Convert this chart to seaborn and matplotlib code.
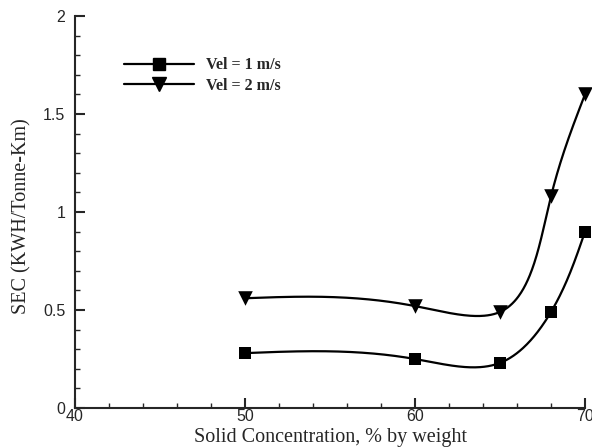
import numpy as np
import pandas as pd
import seaborn as sns
import matplotlib
matplotlib.use("Agg")
import matplotlib.pyplot as plt
from matplotlib.lines import Line2D
from matplotlib.ticker import MultipleLocator

# data
concentration = [50, 60, 65, 68, 70]
sec_vel1 = [0.28, 0.25, 0.23, 0.49, 0.90]
sec_vel2 = [0.56, 0.52, 0.49, 1.08, 1.60]
series_labels = ["Vel = 1 m/s", "Vel = 2 m/s"]


def natural_coeffs(t, v):
    k = len(t)
    h = np.diff(t)
    A = np.zeros((k, k))
    b = np.zeros(k)
    A[0, 0] = A[-1, -1] = 1
    for i in range(1, k - 1):
        A[i, i - 1] = h[i - 1]
        A[i, i] = 2 * (h[i - 1] + h[i])
        A[i, i + 1] = h[i]
        b[i] = 6 * ((v[i + 1] - v[i]) / h[i] - (v[i] - v[i - 1]) / h[i - 1])
    return np.linalg.solve(A, b)


def eval_spline(t, v, M, ts):
    h = np.diff(t)
    j = np.clip(np.searchsorted(t, ts) - 1, 0, len(t) - 2)
    t0 = t[j + 1] - ts
    t1 = ts - t[j]
    hj = h[j]
    return (M[j] * t0 ** 3 / (6 * hj) + M[j + 1] * t1 ** 3 / (6 * hj)
            + (v[j] / hj - M[j] * hj / 6) * t0
            + (v[j + 1] / hj - M[j + 1] * hj / 6) * t1)


def smooth_curve(x, y, sx=17.0, sy=196.0, n=400):
    # parametric spline through the points, chord length taken on screen
    px = np.asarray(x, float) * sx
    py = np.asarray(y, float) * sy
    t = np.concatenate([[0], np.cumsum(np.hypot(np.diff(px), np.diff(py)))])
    ts = np.linspace(0, t[-1], n)
    cx = eval_spline(t, px, natural_coeffs(t, px), ts)
    cy = eval_spline(t, py, natural_coeffs(t, py), ts)
    return cx / sx, cy / sy


sns.set_style("ticks")
plt.rcParams["font.family"] = ["Liberation Serif", "DejaVu Serif"]

fig = plt.figure(figsize=(5.92, 4.48), dpi=100)
ax = fig.add_axes([75 / 592, 40 / 448, 510 / 592, 392 / 448])

for vals, marker, size in [(sec_vel1, "s", 80), (sec_vel2, "v", 110)]:
    xs, ys = smooth_curve(concentration, vals)
    curve = pd.DataFrame({"x": xs, "y": ys})
    sns.lineplot(data=curve, x="x", y="y", ax=ax, color="black",
                 linewidth=1.6, sort=False, estimator=None)
    pts = pd.DataFrame({"x": concentration, "y": vals})
    sns.scatterplot(data=pts, x="x", y="y", ax=ax, color="black",
                    marker=marker, s=size, edgecolor="black",
                    linewidth=0, zorder=3, clip_on=False)

ax.set_xlim(40, 70)
ax.set_ylim(0, 2)
ax.xaxis.set_major_locator(MultipleLocator(10))
ax.xaxis.set_minor_locator(MultipleLocator(2))
ax.yaxis.set_minor_locator(MultipleLocator(0.1))
ax.set_yticks([0, 0.5, 1, 1.5, 2])
ax.set_yticklabels(["0", "0.5", "1", "1.5", "2"])

ax.tick_params(which="major", direction="in", length=7, width=1.5,
               labelsize=11.5, labelfontfamily="Liberation Sans")
ax.tick_params(which="minor", direction="in", length=3.5, width=1)
ax.tick_params(axis="x", which="major", pad=1)
ax.tick_params(axis="y", which="major", pad=7)

sns.despine(ax=ax)
for side in ["left", "bottom"]:
    ax.spines[side].set_linewidth(1.5)

ax.set_xlabel("Solid Concentration, % by weight", fontsize=14.5)
ax.set_ylabel("SEC (KWH/Tonne-Km)", fontsize=14.5)
ax.xaxis.set_label_coords(0.5, -0.05)
ax.yaxis.set_label_coords(-0.085, 0.49)

handles = [
    Line2D([], [], color="black", lw=1.6, marker="s", markersize=9),
    Line2D([], [], color="black", lw=1.6, marker="v", markersize=10),
]
ax.legend(handles, series_labels, loc="upper left",
          bbox_to_anchor=((124 - 75) / 510, 0.895), borderaxespad=0,
          borderpad=0, frameon=False, handlelength=4.4, handletextpad=0.75,
          labelspacing=0.28, prop={"family": "Liberation Serif",
                                   "weight": "bold", "size": 11.5})

fig.savefig("out.png", dpi=100)
